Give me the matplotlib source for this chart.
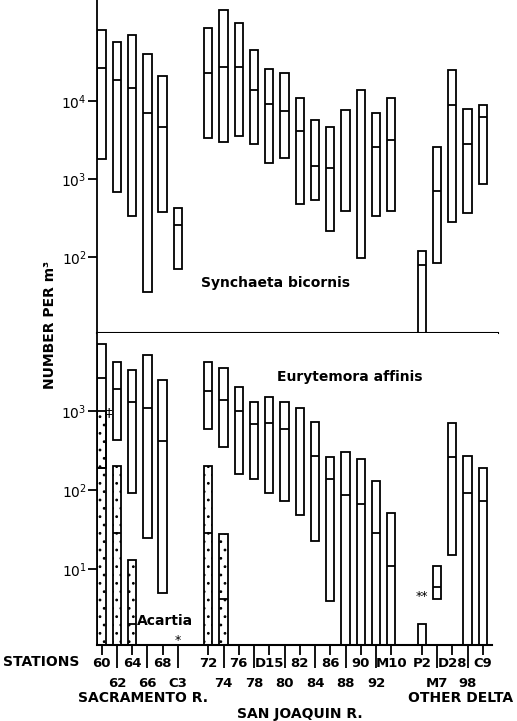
import numpy as np
import matplotlib.pyplot as plt

plt.rcParams['font.family'] = ['DejaVu Sans']
plt.rcParams['hatch.linewidth'] = 0.8

# station groups along the x axis
sac = ['60', '62', '64', '66', '68', 'C3']
sjr = ['72', '74', '76', '78', 'D15', '80', '82', '84', '86', '88', '90', '92', 'M10']
oth = ['P2', 'M7', 'D28', '98', 'C9']

# Synchaeta bicornis: low / median / high (number per m3), nan = no median drawn
syn_low = [1800, 680, 340, 36, 380, 71,
           3400, 3000, 3600, 2800, 1600, 1900, 490, 550, 220, 390, 98, 340, 390,
           3, 85, 280, 370, 870]
syn_med = [27000, 19000, 15000, 7200, 4700, 260,
           23000, 28000, 28000, 14000, 9300, 7600, 4200, 1500, 1400, np.nan, np.nan, 2600, 3200,
           80, 710, 8900, 2800, 6300]
syn_high = [83000, 58000, 72000, 40000, 21000, 430,
            87000, 150000, 100000, 45000, 26000, 23000, 11000, 5800, 4700, 7800, 14000, 7200, 11000,
            120, 2600, 25000, 8100, 9100]

# Eurytemora affinis (0 = below the axis), nan for C3 (not taken)
eur_low = [190, 430, 93, 25, 5, np.nan,
           600, 350, 160, 140, 93, 74, 48, 23, 4, 0, 0, 0, 0,
           0, 4.2, 15, 0, 0]
eur_med = [2600, 1900, 1300, 1100, 420, np.nan,
           1800, 1400, 1000, 680, 710, 600, np.nan, 270, 140, 87, 66, 29, 11,
           np.nan, 6, 260, 91, 74]
eur_high = [7100, 4200, 3300, 5100, 2500, np.nan,
            4200, 3500, 2000, 1300, 1500, 1300, 1100, 740, 260, 300, 250, 130, 52,
            2, 11, 710, 270, 190]

# Acartia (dotted bars)
aca_st = ['60', '62', '64', '72', '74']
aca_med = [190, 29, 2, 29, 4.2]
aca_high = [1000, 200, 13, 200, 28]

# x positions: one unit per station, one empty slot between groups
stations, pos, row = [], [], []
start = 0
for g in [sac, sjr, oth]:
    for k, s in enumerate(g):
        stations.append(s)
        pos.append(start + k)
        row.append(k % 2)
    start += len(g) + 1
pos = np.array(pos, dtype=float)
xmap = dict(zip(stations, pos))

W, H = 517, 721
fig = plt.figure(figsize=(W / 100, H / 100), dpi=100)
left, right = 97 / W, 498 / W
ax1 = fig.add_axes([left, (H - 333) / H, right - left, 333 / H])
ax2 = fig.add_axes([left, (H - 645) / H, right - left, 312 / H])

bw = 0.55
lw = 1.3


def draw_boxes(ax, x, lo, med, hi, ymin, **kw):
    x = np.asarray(x, float)
    lo = np.asarray(lo, float)
    med = np.asarray(med, float)
    hi = np.asarray(hi, float)
    ok = ~np.isnan(hi)
    lo = np.where(lo <= 0, ymin * 0.3, lo)
    ax.bar(x[ok], hi[ok] - lo[ok], bottom=lo[ok], width=bw, edgecolor='black',
           linewidth=lw, align='center', **kw)
    m = ~np.isnan(med)
    ax.hlines(med[m], x[m] - bw / 2, x[m] + bw / 2, color='black', lw=lw)


for ax, lo_, hi_ in [(ax1, 10 ** 1.03, 10 ** 5.3), (ax2, 10 ** 0.04, 10 ** 3.99)]:
    ax.set_yscale('log')
    ax.set_ylim(lo_, hi_)
    ax.set_xlim(-0.3, 26.0)
    ax.spines['top'].set_visible(False)
    ax.spines['right'].set_visible(False)
    ax.spines['left'].set_linewidth(lw)
    ax.spines['bottom'].set_linewidth(1.5)
    ax.minorticks_off()
    ax.tick_params(axis='y', which='major', length=6.5, width=lw, pad=1, labelsize=10)

draw_boxes(ax1, pos, syn_low, syn_med, syn_high, 10 ** 1.03, facecolor='white')
draw_boxes(ax2, pos, eur_low, eur_med, eur_high, 10 ** 0.04, facecolor='none')
ax_x = [xmap[s] for s in aca_st]
draw_boxes(ax2, ax_x, [0] * len(aca_st), aca_med, aca_high, 10 ** 0.04,
           facecolor='none', hatch='..')

ax1.set_yticks([1e2, 1e3, 1e4])
ax1.set_xticks([])
ax2.set_yticks([1e1, 1e2, 1e3])
ax2.spines['bottom'].set_bounds(-0.3, 25.6)

row = np.array(row)
ax2.set_xticks(pos[row == 0], [s for s, r in zip(stations, row) if r == 0])
ax2.set_xticks(pos[row == 1], [s for s, r in zip(stations, row) if r == 1], minor=True)
ax2.tick_params(axis='x', which='major', length=7.2, width=lw, pad=1.5, labelsize=9.5)
ax2.tick_params(axis='x', which='minor', length=16.5, width=lw, pad=6.5, labelsize=9.5)
for t in ax2.get_xticklabels(which='both'):
    t.set_fontweight('bold')

ax1.text(0.26, 0.15, 'Synchaeta bicornis', transform=ax1.transAxes,
         fontsize=10, fontweight='bold', va='center')
ax2.text(0.45, 0.86, 'Eurytemora affinis', transform=ax2.transAxes,
         fontsize=10, fontweight='bold', va='center')
ax2.text(2.35, 10 ** 0.35, 'Acartia', fontsize=10, fontweight='bold', va='center')
ax2.text(xmap['C3'], 10 ** 0.1, '*', fontsize=9, ha='center', va='center')
ax2.text(xmap['P2'], 10 ** 0.65, '**', fontsize=9, ha='center', va='center')
ax2.text(0.5, 10 ** 2.98, '‡', fontsize=9, ha='center', va='center')

fig.text(3 / W, 1 - 662 / H, 'STATIONS', fontsize=10, fontweight='bold', va='center')
fig.text(143 / W, 1 - 698 / H, 'SACRAMENTO R.', fontsize=10, fontweight='bold',
         ha='center', va='center')
fig.text(461 / W, 1 - 698 / H, 'OTHER DELTA', fontsize=10, fontweight='bold',
         ha='center', va='center')
fig.text(300 / W, 1 - 714 / H, 'SAN JOAQUIN R.', fontsize=10, fontweight='bold',
         ha='center', va='center')
fig.text(50 / W, 1 - 325 / H, 'NUMBER PER m³', fontsize=10, fontweight='bold',
         rotation=90, ha='center', va='center')

fig.savefig('out.png', dpi=100)
